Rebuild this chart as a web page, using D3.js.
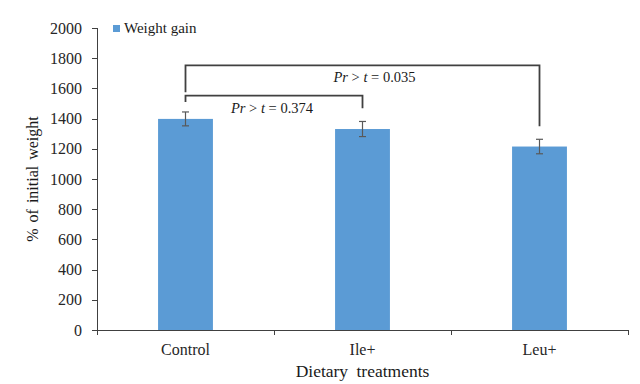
<!DOCTYPE html>
<html lang="en">
<head>
  <meta charset="UTF-8">
  <title>Weight gain by dietary treatment</title>
  <script src="https://d3js.org/d3.v7.min.js"></script>
  <style>
    body {
      margin: 0;
      background: #fff;
    }
    svg {
      display: block;
      font-family: "Liberation Serif", "Times New Roman", serif;
    }
    .axis path,
    .axis line {
      stroke: #404040;
      shape-rendering: crispEdges;
    }
    .axis text {
      font-family: "Liberation Serif", "Times New Roman", serif;
      font-size: 16px;
      fill: #262626;
    }
  </style>
</head>
<body>
  <svg width="640" height="384"></svg>

  <script>
    // data
    const categories = ["Control", "Ile+", "Leu+"];
    const weightGain = [1398, 1331, 1215];
    const weightGainErr = [46, 50, 48];
    const yTicks = [0, 200, 400, 600, 800, 1000, 1200, 1400, 1600, 1800, 2000];

    // comparison brackets: from/to category index, heights in axis units
    const bracketFrom = [0, 0];
    const bracketTo = [1, 2];
    const bracketTop = [1552, 1752];
    const bracketLeftEnd = [1510, 1575];
    const bracketRightEnd = [1468, 1350];
    const bracketP = ["0.374", "0.035"];

    const margin = { top: 28, right: 12, bottom: 54, left: 97 };
    const width = 640 - margin.left - margin.right;
    const height = 384 - margin.top - margin.bottom;

    const svg = d3.select("svg")
      .append("g")
      .attr("transform", `translate(${margin.left},${margin.top})`);

    const x = d3.scaleBand()
      .domain(categories)
      .range([0, width])
      .padding(0);

    const y = d3.scaleLinear()
      .domain([0, 2000])
      .range([height, 0]);

    const barW = x.bandwidth() * 0.31;

    // y axis
    const yAxis = svg.append("g")
      .attr("class", "axis")
      .call(d3.axisLeft(y).tickValues(yTicks).tickFormat(d3.format("d")).tickSize(5).tickPadding(10));
    yAxis.select(".domain").attr("stroke-width", 1.3);

    // x axis (labels only, boundary ticks below)
    const xAxis = svg.append("g")
      .attr("class", "axis")
      .attr("transform", `translate(0,${height})`)
      .call(d3.axisBottom(x).tickSize(0).tickPadding(13.5));
    xAxis.select(".domain").attr("stroke-width", 1.3);

    const bounds = categories.map(c => x(c)).concat([x(categories[categories.length - 1]) + x.bandwidth()]);
    xAxis.selectAll(".bound")
      .data(bounds)
      .join("line")
      .attr("class", "bound")
      .attr("x1", d => d)
      .attr("x2", d => d)
      .attr("y1", 0)
      .attr("y2", 5)
      .attr("stroke", "#404040");

    // bars
    svg.selectAll(".bar")
      .data(categories)
      .join("rect")
      .attr("class", "bar")
      .attr("x", d => x(d) + x.bandwidth() / 2 - barW / 2)
      .attr("width", barW)
      .attr("y", (d, i) => y(weightGain[i]))
      .attr("height", (d, i) => height - y(weightGain[i]))
      .attr("fill", "#5B9BD5");

    // error bars
    const err = svg.append("g")
      .attr("stroke", "#595959")
      .attr("stroke-width", 1.2);
    categories.forEach((c, i) => {
      const cx = x(c) + x.bandwidth() / 2;
      const lo = y(weightGain[i] - weightGainErr[i]);
      const hi = y(weightGain[i] + weightGainErr[i]);
      err.append("line").attr("x1", cx).attr("x2", cx).attr("y1", lo).attr("y2", hi);
      err.append("line").attr("x1", cx - 3.5).attr("x2", cx + 3.5).attr("y1", lo).attr("y2", lo);
      err.append("line").attr("x1", cx - 3.5).attr("x2", cx + 3.5).attr("y1", hi).attr("y2", hi);
    });

    // comparison brackets
    const labelDx = [-2, 12];
    bracketFrom.forEach((f, i) => {
      const x1 = x(categories[f]) + x.bandwidth() / 2;
      const x2 = x(categories[bracketTo[i]]) + x.bandwidth() / 2;
      const top = y(bracketTop[i]);
      svg.append("path")
        .attr("d", d3.line()([
          [x1, y(bracketLeftEnd[i])],
          [x1, top],
          [x2, top],
          [x2, y(bracketRightEnd[i])]
        ]))
        .attr("fill", "none")
        .attr("stroke", "#404040")
        .attr("stroke-width", 1.8);

      const t = svg.append("text")
        .attr("x", (x1 + x2) / 2 + labelDx[i])
        .attr("y", top + 17)
        .attr("text-anchor", "middle")
        .attr("font-size", 14.5)
        .attr("fill", "#1a1a1a");
      t.append("tspan").attr("font-style", "italic").text("Pr");
      t.append("tspan").text(" > ");
      t.append("tspan").attr("font-style", "italic").text("t");
      t.append("tspan").text(" = " + bracketP[i]);
    });

    // legend
    const legend = svg.append("g")
      .attr("transform", "translate(16,-3)");
    legend.append("rect")
      .attr("width", 7)
      .attr("height", 7)
      .attr("fill", "#5B9BD5");
    legend.append("text")
      .attr("x", 11)
      .attr("y", 8)
      .attr("font-size", 15)
      .attr("fill", "#1a1a1a")
      .text("Weight gain");

    // axis titles
    svg.append("text")
      .attr("x", x(categories[1]) + x.bandwidth() / 2)
      .attr("y", height + 46.5)
      .attr("text-anchor", "middle")
      .attr("font-size", 17.5)
      .attr("word-spacing", 4)
      .attr("fill", "#1a1a1a")
      .text("Dietary treatments");

    svg.append("text")
      .attr("transform", "rotate(-90)")
      .attr("x", -height / 2)
      .attr("y", -59)
      .attr("text-anchor", "middle")
      .attr("font-size", 16)
      .attr("word-spacing", 2)
      .attr("fill", "#1a1a1a")
      .text("% of initial weight");
  </script>
</body>
</html>
